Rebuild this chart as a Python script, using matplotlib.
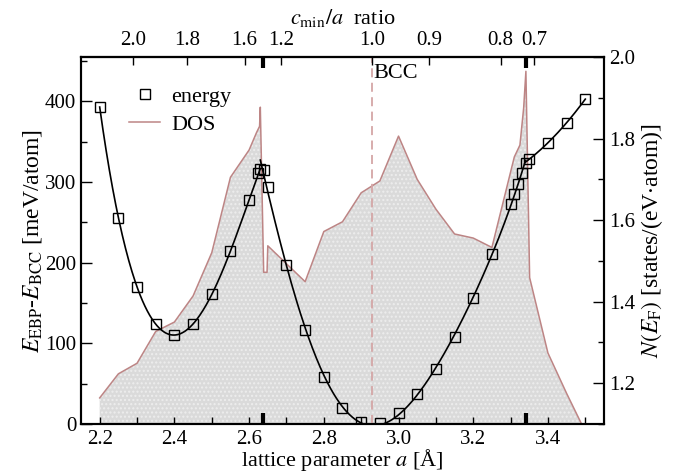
import matplotlib
matplotlib.use("Agg")
import matplotlib.pyplot as plt
import numpy as np

plt.rcParams["font.family"] = ["Liberation Serif", "DejaVu Serif"]
plt.rcParams["mathtext.fontset"] = "stix"

# energy difference E_EBP - E_BCC [meV/atom] vs lattice parameter a [A]
energy_a = [2.20, 2.25, 2.30, 2.35, 2.40, 2.45, 2.50, 2.55, 2.60, 2.625, 2.63,
            2.64, 2.65, 2.70, 2.75, 2.80, 2.85, 2.90, 2.95, 3.00, 3.05, 3.10,
            3.15, 3.20, 3.25, 3.30, 3.31, 3.32, 3.33, 3.34, 3.35, 3.40, 3.45, 3.50]
energy = [393, 256, 170, 124, 110, 124, 161, 214, 278, 311, 316,
          315, 294, 197, 117, 58, 20, 2, 1, 14, 37, 68,
          108, 156, 211, 273, 285, 298, 311, 324, 329, 349, 373, 403]

# density of states at the Fermi level [states/(eV atom)]
dos_a = [2.20, 2.25, 2.30, 2.35, 2.40, 2.45, 2.50, 2.55, 2.60, 2.62, 2.628,
         2.630, 2.639, 2.648, 2.650, 2.75, 2.80, 2.85, 2.90, 2.95, 3.00, 3.05,
         3.10, 3.15, 3.20, 3.25, 3.31, 3.325, 3.335, 3.341, 3.351, 3.40, 3.45, 3.49]
dos = [1.164, 1.223, 1.249, 1.327, 1.350, 1.414, 1.520, 1.705, 1.772, 1.815, 1.830,
       1.877, 1.472, 1.472, 1.537, 1.449, 1.572, 1.596, 1.667, 1.696, 1.806, 1.700,
       1.627, 1.566, 1.556, 1.533, 1.755, 1.784, 1.875, 1.965, 1.459, 1.274, 1.175, 1.10]

# top axis: c_min/a ratio labels and the a where they sit
ca_labels = ["2.0", "1.8", "1.6", "1.2", "1.0", "0.9", "0.8", "0.7"]
ca_pos = [2.289, 2.434, 2.588, 2.686, 2.929, 3.081, 3.273, 3.364]
transition_a = [2.637, 3.341]
bcc_a = 2.929

# fit branches (index ranges into the energy arrays) and polynomial degree
branches = [(0, 11, 5), (10, 30, 5), (29, 34, 2)]

dos_color = "#bd8585"

fig = plt.figure(figsize=(6.74, 4.74), dpi=100)
ax = fig.add_axes([0.1202, 0.1055, 0.7759, 0.7742])
ax2 = ax.twinx()
ax.set_zorder(ax2.get_zorder() + 1)
ax.patch.set_visible(False)

# DOS (right axis)
ax2.fill_between(dos_a, dos, 0, facecolor="#dadada", edgecolor="#ededed",
                 linewidth=0, hatch="....")
h_dos, = ax2.plot(dos_a, dos, color=dos_color, lw=1.1, label="DOS")
ax2.set_ylim(1.1, 2.0)
ax2.set_yticks([1.2, 1.4, 1.6, 1.8, 2.0])
ax2.set_yticks(np.arange(1.1, 2.0, 0.2), minor=True)
ax2.set_ylabel(r"$N(E_{\rm F})$ [states/(eV$\cdot$atom)]", fontsize=17, labelpad=3)

# energy (left axis)
ea = np.array(energy_a)
ev = np.array(energy, dtype=float)
for i0, i1, deg in branches:
    coef = np.polyfit(ea[i0:i1], ev[i0:i1], deg)
    xx = np.linspace(ea[i0], ea[i1 - 1], 200)
    ax.plot(xx, np.polyval(coef, xx), color="k", lw=1.2)
h_en, = ax.plot(energy_a, energy, "s", ms=7, mfc="none", mec="k", mew=1.0,
                label="energy")

ax.axvline(bcc_a, color="#d4a6a6", ls=(0, (5, 3)), lw=1.3, zorder=0)
ax.text(bcc_a + 0.005, 446, "BCC", fontsize=16, va="top", ha="left")

ax.set_xlim(2.15, 3.55)
ax.set_ylim(0, 455)
ax.set_xticks(np.arange(2.2, 3.41, 0.2))
ax.set_xticks(np.arange(2.3, 3.51, 0.2), minor=True)
ax.set_yticks([0, 100, 200, 300, 400])
ax.set_yticks([50, 150, 250, 350, 450], minor=True)
ax.set_xticklabels([f"{v:.1f}" for v in np.arange(2.2, 3.41, 0.2)])
ax.set_xlabel(r"lattice parameter $a$ [Å]", fontsize=16, labelpad=-1)
ax.set_ylabel(r"$E_{\rm EBP}$-$E_{\rm BCC}$ [meV/atom]", fontsize=17, labelpad=1)

for a_t in transition_a:
    ax.plot([a_t, a_t], [0, 0.03], transform=ax.get_xaxis_transform(),
            color="k", lw=3, solid_capstyle="butt", clip_on=False)
    ax.plot([a_t, a_t], [1, 0.97], transform=ax.get_xaxis_transform(),
            color="k", lw=3, solid_capstyle="butt", clip_on=False)

top = ax.secondary_xaxis("top")
top.set_xticks(ca_pos)
top.set_xticklabels(ca_labels)
top.tick_params(direction="in", length=6, width=1, labelsize=15, pad=5)
top.set_xlabel(r"$c_{\rm min}/a$  ratio", fontsize=16, labelpad=5)

ax.tick_params(which="both", direction="in", labelsize=15, top=False, right=False)
ax.tick_params(axis="x", which="both", length=5, width=1, pad=4)
ax.tick_params(axis="y", which="major", length=8, width=1)
ax.tick_params(axis="y", which="minor", length=4, width=1)
ax2.tick_params(which="both", direction="in", labelsize=15)
ax2.tick_params(which="major", length=8, width=1)
ax2.tick_params(which="minor", length=4, width=1)
for sp in list(ax.spines.values()) + list(ax2.spines.values()) + list(top.spines.values()):
    sp.set_linewidth(1.5)

ax.legend([h_en, h_dos], ["energy", "DOS"], loc="upper left",
          bbox_to_anchor=(0.075, 0.945), frameon=False, fontsize=16,
          handlelength=1.4, handletextpad=0.5, borderaxespad=0, labelspacing=0.35)

fig.savefig("out.png", dpi=100)
